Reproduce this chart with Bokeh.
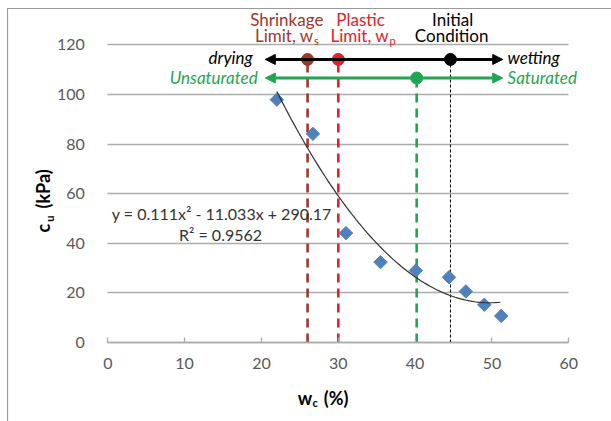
import numpy as np
from bokeh.plotting import figure
from bokeh.models import Range1d, FixedTicker, Label, Arrow, NormalHead, ColumnDataSource, BoxAnnotation
from bokeh.embed import file_html
from bokeh.resources import INLINE

# ---- data ----
wc = [22.0, 26.7, 31.0, 35.5, 40.1, 44.4, 46.6, 49.0, 51.2]
cu = [97.9, 84.1, 44.1, 32.4, 29.0, 26.3, 20.6, 15.2, 10.7]
trend_coef = [0.111, -11.033, 290.17]
trend_domain = [22.0, 51.1]
w_shrink = 26.0
w_plastic = 30.0
w_sat = 40.2
w_init = 44.6
level_dry = 114.1
level_sat = 106.6
arrow_span = [20.5, 51.4]
x_ticks = [0, 10, 20, 30, 40, 50, 60]
y_ticks = [0, 20, 40, 60, 80, 100, 120]
x_bounds = (0, 60)
y_bounds = (0, 120)

FONT = "Lato"
BROWN = "#A0362C"
RED = "#E4202A"
GREEN = "#1FA64F"
GRID = "#ABABAB"
TICKC = "#595959"

W, H = 611, 421
# plot-area placement inside the canvas (pixels)
PX_L, PX_R, PX_T, PX_B = 107.3, 568.3, 44.3, 342.0
sx = (PX_R - PX_L) / (x_bounds[1] - x_bounds[0])
sy = (PX_B - PX_T) / (y_bounds[1] - y_bounds[0])
xr = Range1d(x_bounds[0] - PX_L / sx, x_bounds[1] + (W - PX_R) / sx)
yr = Range1d(y_bounds[0] - (H - PX_B) / sy, y_bounds[1] + PX_T / sy)

def dx(px):
    return xr.start + px / sx

def dy(py):
    return yr.end - py / sy

p = figure(width=W, height=H, x_range=xr, y_range=yr,
           output_backend="svg", toolbar_location=None,
           min_border_left=0, min_border_right=0, min_border_top=0, min_border_bottom=0)
p.outline_line_color = None
p.background_fill_color = "white"
p.border_fill_color = "white"

# outer chart border (left & top edges visible)
BORDER = "#9A9A9A"
p.add_layout(BoxAnnotation(left=dx(6.5), right=dx(W + 20), top=dy(7.5), bottom=dy(8.6),
                           fill_color=BORDER, fill_alpha=1, line_color=None))
p.add_layout(BoxAnnotation(left=dx(6.5), right=dx(7.6), top=dy(7.5), bottom=dy(H + 20),
                           fill_color=BORDER, fill_alpha=1, line_color=None))

p.xgrid.grid_line_color = None
p.ygrid.grid_line_color = GRID
p.ygrid.grid_line_width = 1.3
p.ygrid.ticker = FixedTicker(ticks=y_ticks)
p.ygrid.cross_bounds = x_bounds

p.xaxis.ticker = FixedTicker(ticks=x_ticks)
p.yaxis.ticker = FixedTicker(ticks=y_ticks)
p.xaxis.fixed_location = 0
p.yaxis.fixed_location = 0
p.xaxis.bounds = x_bounds
p.yaxis.bounds = y_bounds
p.xaxis.axis_line_color = GRID
p.xaxis.axis_line_width = 1.3
p.xaxis.major_tick_line_color = GRID
p.xaxis.major_tick_line_width = 1.3
p.xaxis.major_tick_in = 5
p.xaxis.major_tick_out = 0
p.xaxis.minor_tick_line_color = None
p.xaxis.major_label_standoff = 15
p.yaxis.axis_line_color = None
p.yaxis.major_tick_line_color = None
p.yaxis.minor_tick_line_color = None
p.yaxis.major_label_standoff = 17
for ax in (p.xaxis, p.yaxis):
    ax.major_label_text_font = FONT
    ax.major_label_text_font_size = "16px"
    ax.major_label_text_color = TICKC

# vertical marker lines
p.segment(x0=[w_shrink], y0=[0], x1=[w_shrink], y1=[level_dry], line_color=BROWN,
          line_width=2.6, line_dash="9 6")
p.segment(x0=[w_plastic], y0=[0], x1=[w_plastic], y1=[level_dry], line_color=RED,
          line_width=2.6, line_dash="9 6")
p.segment(x0=[w_sat], y0=[0], x1=[w_sat], y1=[level_sat], line_color=GREEN,
          line_width=2.6, line_dash="9 6")
p.segment(x0=[w_init], y0=[0], x1=[w_init], y1=[level_dry], line_color="black",
          line_width=1, line_dash="3 2")

# arrows
p.add_layout(Arrow(x_start=arrow_span[0], y_start=level_dry, x_end=arrow_span[1], y_end=level_dry,
                   line_color="black", line_width=3,
                   start=NormalHead(size=10, fill_color="black", line_color="black"),
                   end=NormalHead(size=10, fill_color="black", line_color="black")))
p.add_layout(Arrow(x_start=arrow_span[0], y_start=level_sat, x_end=arrow_span[1], y_end=level_sat,
                   line_color=GREEN, line_width=3,
                   start=NormalHead(size=10, fill_color=GREEN, line_color=GREEN),
                   end=NormalHead(size=10, fill_color=GREEN, line_color=GREEN)))

# dots
p.scatter(x=[w_shrink, w_plastic, w_init, w_sat],
          y=[level_dry, level_dry, level_dry, level_sat],
          color=[BROWN, RED, "black", GREEN], size=12, marker="circle")

# data points
src = ColumnDataSource(dict(x=wc, y=cu))
p.scatter("x", "y", source=src, marker="square", angle=np.pi / 4, size=9.5,
          fill_color="#4F81BD", line_color="#4F81BD")

# trendline from the printed equation
xt = np.linspace(trend_domain[0], trend_domain[1], 80)
yt = np.polyval(trend_coef, xt)
p.line(xt, yt, line_color="#303030", line_width=1.2)

def lab(x, y, text, color="black", size="16px", align="center", style="normal",
        baseline="middle", angle=0):
    p.add_layout(Label(x=x, y=y, text=text, text_color=color, text_font=FONT,
                       text_font_size=size, text_align=align, text_baseline=baseline,
                       text_font_style=style, angle=angle))

# top labels
lab(23.3, 130.0, "Shrinkage", BROWN, "17px")
lab(26.77, 123.6, "Limit, w", BROWN, "17px", align="right")
lab(26.85, 121.9, "s", BROWN, "11px", align="left")
lab(32.9, 130.0, "Plastic", RED, "17px")
lab(36.6, 123.6, "Limit, w", RED, "17px", align="right")
lab(36.68, 121.9, "p", RED, "11px", align="left")
lab(44.88, 130.0, "Initial", "black", "17px")
lab(44.75, 123.6, "Condition", "black", "17px")

# arrow labels
lab(18.86, level_dry + 0.6, "drying", "black", "17px", align="right", style="italic")
lab(52.03, level_dry + 0.6, "wetting", "black", "17px", align="left", style="italic")
lab(19.5, level_sat + 0.3, "Unsaturated", GREEN, "17px", align="right", style="italic")
lab(52.03, level_sat + 0.3, "Saturated", GREEN, "17px", align="left", style="italic")

# equation
lab(14.83, 52.0, "y = 0.111x\u00b2 - 11.033x + 290.17", "#333333", "16px")
lab(14.67, 43.5, "R\u00b2 = 0.9562", "#333333", "16px")

# axis titles
lab(26.6, -22.2, "w", "black", "18px", align="right", style="bold")
lab(26.65, -24.0, "c", "black", "11px", align="left", style="bold")
lab(28.1, -22.2, "(%)", "black", "18px", align="left", style="bold")
lab(-8.37, 44.3, "c", "black", "18px", align="left", style="bold", angle=np.pi / 2)
lab(-7.6, 48.7, "u", "black", "11px", align="left", style="bold", angle=np.pi / 2)
lab(-8.37, 54.0, "(kPa)", "black", "18px", align="left", style="bold", angle=np.pi / 2)

open("out.html", "w").write(file_html(p, INLINE))
